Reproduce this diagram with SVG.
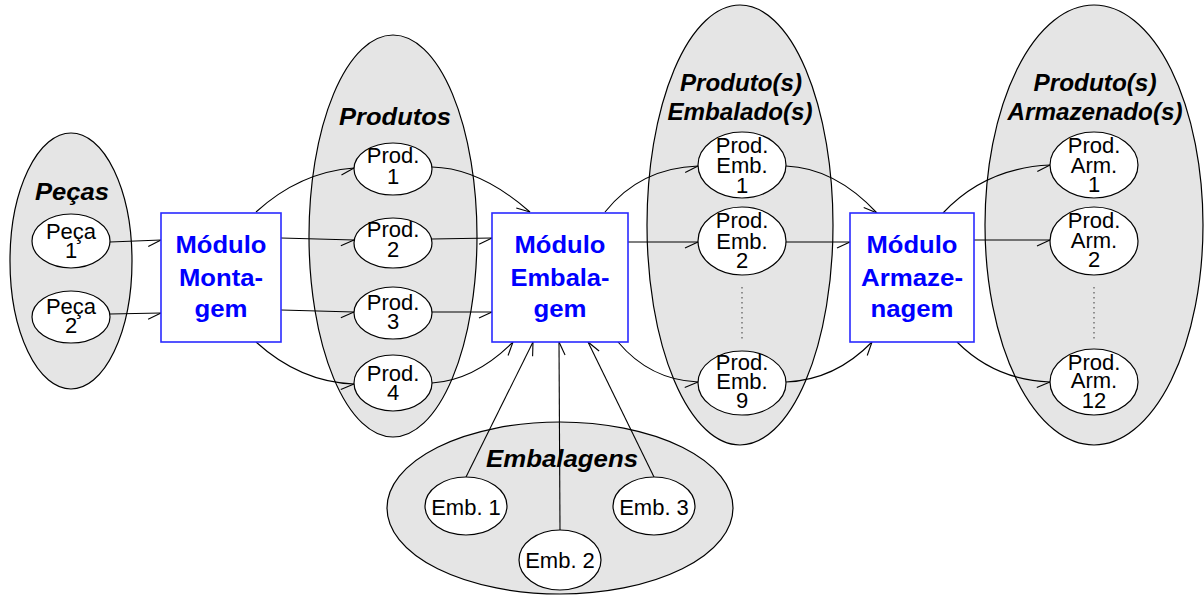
<svg xmlns="http://www.w3.org/2000/svg" width="1204" height="595" viewBox="0 0 1204 595">
  <style>
    .set { fill: #e5e5e5; stroke: #000; stroke-width: 1.2; }
    .item { fill: #fff; stroke: #000; stroke-width: 1.2; }
    .box { fill: #fff; stroke: #2a2aff; stroke-width: 1.6; }
    .head { font-family: "Liberation Sans", Arial, sans-serif; font-size: 24px; font-weight: bold; font-style: italic; fill: #000; text-anchor: middle; }
    .mod { font-family: "Liberation Sans", Arial, sans-serif; font-size: 24px; font-weight: bold; fill: #0000ff; text-anchor: middle; }
    .lbl { font-family: "Liberation Sans", Arial, sans-serif; font-size: 22px; fill: #000; text-anchor: middle; }
    .edge { fill: none; stroke: #000; stroke-width: 1.1; marker-end: url(#harpoon); }
    .dots { fill: none; stroke: #555; stroke-width: 1.2; stroke-dasharray: 1.5 3.5; }
  </style>
  <defs>
    <!-- single-barb open arrowhead -->
    <marker id="harpoon" markerUnits="userSpaceOnUse" orient="auto" refX="0" refY="0" markerWidth="20" markerHeight="20" overflow="visible">
      <path d="M-13,6 L0,0" fill="none" stroke="#000" stroke-width="1.1"/>
    </marker>
  </defs>

  <!-- set backgrounds -->
  <g id="set-pecas">
    <ellipse class="set" cx="71" cy="261" rx="61" ry="128"/>
    <text class="head" x="72" y="200" textLength="74" lengthAdjust="spacingAndGlyphs">Peças</text>
  </g>
  <g id="set-produtos">
    <ellipse class="set" cx="393" cy="236" rx="84" ry="201"/>
    <text class="head" x="395" y="125" textLength="112" lengthAdjust="spacingAndGlyphs">Produtos</text>
  </g>
  <g id="set-embalados">
    <ellipse class="set" cx="740" cy="225" rx="93" ry="220"/>
    <text class="head" x="741" y="91" textLength="122" lengthAdjust="spacingAndGlyphs">Produto(s)</text>
    <text class="head" x="740" y="120" textLength="145" lengthAdjust="spacingAndGlyphs">Embalado(s)</text>
  </g>
  <g id="set-armazenados">
    <ellipse class="set" cx="1094" cy="225" rx="109" ry="220"/>
    <text class="head" x="1095" y="91" textLength="123" lengthAdjust="spacingAndGlyphs">Produto(s)</text>
    <text class="head" x="1095" y="120" textLength="175" lengthAdjust="spacingAndGlyphs">Armazenado(s)</text>
  </g>
  <g id="set-embalagens">
    <ellipse class="set" cx="560" cy="508" rx="173" ry="86"/>
    <text class="head" x="562" y="467" textLength="152" lengthAdjust="spacingAndGlyphs">Embalagens</text>
  </g>

  <!-- connectors -->
  <g id="connectors">
    <path class="edge" d="M110,242 L161,240"/>
    <path class="edge" d="M110,314 L161,313"/>

    <path class="edge" d="M256,212 Q300,172 354,168"/>
    <path class="edge" d="M281,238 L354,240"/>
    <path class="edge" d="M281,310 L354,312"/>
    <path class="edge" d="M256,342 Q300,382 354,384"/>

    <path class="edge" d="M432,167 Q480,168 530,212"/>
    <path class="edge" d="M432,239 L492,238"/>
    <path class="edge" d="M432,312 L492,312"/>
    <path class="edge" d="M432,383 Q475,380 513,342"/>

    <path class="edge" d="M466,477 L533,342"/>
    <path class="edge" d="M560,530 L559,342"/>
    <path class="edge" d="M654,477 L588,342"/>

    <path class="edge" d="M605,212 Q640,168 698,166"/>
    <path class="edge" d="M628,242 L698,242"/>
    <path class="edge" d="M618,342 Q650,380 698,382"/>

    <path class="edge" d="M786,166 Q835,168 877,213"/>
    <path class="edge" d="M786,242 L850,242"/>
    <path class="edge" d="M786,382 Q835,380 872,342"/>

    <path class="edge" d="M943,213 Q985,168 1050,165"/>
    <path class="edge" d="M974,240 L1050,240"/>
    <path class="edge" d="M957,342 Q995,380 1050,382"/>

    <path class="dots" d="M742,287 L742,340"/>
    <path class="dots" d="M1094,287 L1094,340"/>
  </g>

  <!-- parts -->
  <g id="peca-1">
    <ellipse class="item" cx="71" cy="241" rx="39" ry="27"/>
    <text class="lbl" x="71" y="239">Peça</text>
    <text class="lbl" x="71" y="258">1</text>
  </g>
  <g id="peca-2">
    <ellipse class="item" cx="71" cy="317" rx="39" ry="26"/>
    <text class="lbl" x="71" y="314">Peça</text>
    <text class="lbl" x="71" y="333">2</text>
  </g>

  <!-- modules -->
  <g id="modulo-montagem">
    <rect class="box" x="161" y="213" width="120" height="129"/>
    <text class="mod" x="221" y="253" textLength="91" lengthAdjust="spacingAndGlyphs">Módulo</text>
    <text class="mod" x="221" y="286" textLength="84" lengthAdjust="spacingAndGlyphs">Monta-</text>
    <text class="mod" x="221" y="317" textLength="53" lengthAdjust="spacingAndGlyphs">gem</text>
  </g>
  <g id="modulo-embalagem">
    <rect class="box" x="492" y="213" width="136" height="129"/>
    <text class="mod" x="560" y="253" textLength="91" lengthAdjust="spacingAndGlyphs">Módulo</text>
    <text class="mod" x="560" y="286" textLength="99" lengthAdjust="spacingAndGlyphs">Embala-</text>
    <text class="mod" x="560" y="317" textLength="53" lengthAdjust="spacingAndGlyphs">gem</text>
  </g>
  <g id="modulo-armazenagem">
    <rect class="box" x="850" y="213" width="124" height="129"/>
    <text class="mod" x="912" y="253" textLength="91" lengthAdjust="spacingAndGlyphs">Módulo</text>
    <text class="mod" x="912" y="286" textLength="102" lengthAdjust="spacingAndGlyphs">Armaze-</text>
    <text class="mod" x="912" y="317" textLength="83" lengthAdjust="spacingAndGlyphs">nagem</text>
  </g>

  <!-- products -->
  <g id="prod-1">
    <ellipse class="item" cx="393" cy="169" rx="39" ry="26"/>
    <text class="lbl" x="393" y="163">Prod.</text>
    <text class="lbl" x="393" y="184">1</text>
  </g>
  <g id="prod-2">
    <ellipse class="item" cx="393" cy="243" rx="39" ry="25"/>
    <text class="lbl" x="393" y="237">Prod.</text>
    <text class="lbl" x="393" y="257">2</text>
  </g>
  <g id="prod-3">
    <ellipse class="item" cx="393" cy="313" rx="39" ry="26"/>
    <text class="lbl" x="393" y="310">Prod.</text>
    <text class="lbl" x="393" y="329">3</text>
  </g>
  <g id="prod-4">
    <ellipse class="item" cx="393" cy="383" rx="39" ry="28"/>
    <text class="lbl" x="393" y="381">Prod.</text>
    <text class="lbl" x="393" y="400">4</text>
  </g>

  <!-- packaged products -->
  <g id="prod-emb-1">
    <ellipse class="item" cx="742" cy="165" rx="44" ry="33"/>
    <text class="lbl" x="742" y="153">Prod.</text>
    <text class="lbl" x="742" y="173">Emb.</text>
    <text class="lbl" x="742" y="193">1</text>
  </g>
  <g id="prod-emb-2">
    <ellipse class="item" cx="742" cy="241" rx="44" ry="34"/>
    <text class="lbl" x="742" y="228">Prod.</text>
    <text class="lbl" x="742" y="249">Emb.</text>
    <text class="lbl" x="742" y="268">2</text>
  </g>
  <g id="prod-emb-9">
    <ellipse class="item" cx="742" cy="383" rx="44" ry="32"/>
    <text class="lbl" x="742" y="370">Prod.</text>
    <text class="lbl" x="742" y="389">Emb.</text>
    <text class="lbl" x="742" y="408">9</text>
  </g>

  <!-- stored products -->
  <g id="prod-arm-1">
    <ellipse class="item" cx="1094" cy="165" rx="44" ry="33"/>
    <text class="lbl" x="1094" y="153">Prod.</text>
    <text class="lbl" x="1094" y="173">Arm.</text>
    <text class="lbl" x="1094" y="192">1</text>
  </g>
  <g id="prod-arm-2">
    <ellipse class="item" cx="1094" cy="241" rx="44" ry="34"/>
    <text class="lbl" x="1094" y="228">Prod.</text>
    <text class="lbl" x="1094" y="248">Arm.</text>
    <text class="lbl" x="1094" y="267">2</text>
  </g>
  <g id="prod-arm-12">
    <ellipse class="item" cx="1094" cy="382" rx="44" ry="33"/>
    <text class="lbl" x="1094" y="370">Prod.</text>
    <text class="lbl" x="1094" y="388">Arm.</text>
    <text class="lbl" x="1094" y="408">12</text>
  </g>

  <!-- packaging -->
  <g id="emb-1">
    <ellipse class="item" cx="466" cy="506" rx="41" ry="29"/>
    <text class="lbl" x="466" y="515">Emb. 1</text>
  </g>
  <g id="emb-2">
    <ellipse class="item" cx="560" cy="560" rx="41" ry="30"/>
    <text class="lbl" x="560" y="568">Emb. 2</text>
  </g>
  <g id="emb-3">
    <ellipse class="item" cx="654" cy="506" rx="41" ry="29"/>
    <text class="lbl" x="654" y="515">Emb. 3</text>
  </g>
</svg>
